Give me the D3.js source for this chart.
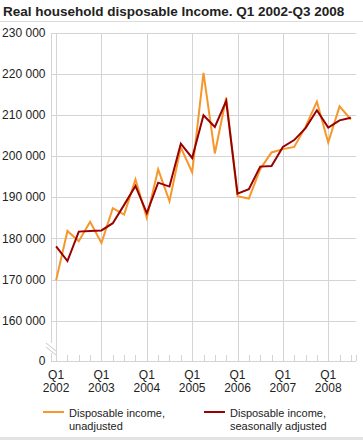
<!DOCTYPE html>
<html lang="en">
<head>
    <meta charset="UTF-8">
    <title>Real household disposable income</title>
    <script src="https://cdnjs.cloudflare.com/ajax/libs/d3/7.8.5/d3.min.js"></script>
    <style>
        body { margin: 0; background: #fff; }
        svg { display: block; font-family: "Liberation Sans", Arial, sans-serif; }
        svg .grid { stroke: #d4d4d4; stroke-width: 1; shape-rendering: crispEdges; }
        svg .tick-label { font-size: 12px; fill: #222; }
        svg .legend-label { font-size: 11px; fill: #222; }
        svg .series { fill: none; stroke-width: 2; stroke-linejoin: miter; }
    </style>
</head>
<body>
<svg width="363" height="440"></svg>
<script>
    var title = 'Real household disposable Income. Q1 2002-Q3 2008',
        years = ['2002', '2003', '2004', '2005', '2006', '2007', '2008'],
        yTicks = [0, 160000, 170000, 180000, 190000, 200000, 210000, 220000, 230000],
        // Q1 2002 .. Q3 2008
        unadjusted = [169800, 181800, 179300, 184050, 178900, 187350, 185800, 194350,
                      185000, 196800, 189050, 202100, 196050, 220250, 200650, 214200,
                      190250, 189700, 196850, 200900, 201700, 202250, 207100, 213250,
                      203300, 212100, 208900],
        adjusted = [178050, 174500, 181650, 181800, 181950, 183700, 188150, 192750,
                    186150, 193550, 192600, 203050, 199550, 209950, 207100, 213400,
                    190900, 191950, 197450, 197600, 202250, 203900, 206800, 211150,
                    206950, 208700, 209350],
        seriesNames = [['Disposable income,', 'unadjusted'], ['Disposable income,', 'seasonally adjusted']],
        colors = ['#f7962a', '#990000'];

    var svg = d3.select('svg'),
        pLeft = 51, pRight = 356, pTop = 32.7, pBottom = 361;

    var x = d3.scaleLinear().domain([-0.45, 26.45]).range([pLeft, pRight]),
        y = d3.scaleLinear().domain([0, 160000, 230000]).range([pBottom, 320.7, pTop]),
        fmt = d3.formatLocale({decimal: ',', thousands: ' ', grouping: [3], currency: ['', '']}).format(',d');

    // title
    svg.append('text')
        .attr('x', 3).attr('y', 16)
        .style('font-size', '13.5px').style('font-weight', 'bold').style('fill', '#222')
        .text(title);
    svg.append('line').attr('class', 'grid')
        .attr('x1', 0).attr('x2', 363).attr('y1', 21.5).attr('y2', 21.5)
        .style('stroke', '#dcdcdc');

    // horizontal grid
    svg.selectAll('.hgrid').data(yTicks.filter(function(d) { return d > 0; }))
        .enter().append('line')
        .attr('class', 'grid')
        .attr('x1', pLeft).attr('x2', pRight)
        .attr('y1', function(d) { return Math.round(y(d)) + 0.5; })
        .attr('y2', function(d) { return Math.round(y(d)) + 0.5; });

    svg.append('line').attr('class', 'grid')
        .attr('x1', pLeft).attr('x2', pRight)
        .attr('y1', Math.round(pBottom) + 0.5).attr('y2', Math.round(pBottom) + 0.5);

    // vertical grid at Q1 of each year, small ticks for the other quarters
    var quarters = d3.range(27);
    svg.selectAll('.vgrid').data(quarters)
        .enter().append('line')
        .attr('class', 'grid')
        .attr('x1', function(d) { return Math.round(x(d)) + 0.5; })
        .attr('x2', function(d) { return Math.round(x(d)) + 0.5; })
        .attr('y1', function(d) { return d % 4 === 0 ? pTop : pBottom - 6; })
        .attr('y2', pBottom);

    svg.append('line').attr('class', 'grid')
        .attr('x1', pRight + 0.5).attr('x2', pRight + 0.5)
        .attr('y1', pBottom - 6).attr('y2', pBottom);

    // y axis with break
    svg.append('line').attr('class', 'grid')
        .attr('x1', pLeft + 0.5).attr('x2', pLeft + 0.5)
        .attr('y1', pTop).attr('y2', 343);
    svg.append('line').attr('class', 'grid')
        .attr('x1', pLeft + 0.5).attr('x2', pLeft + 0.5)
        .attr('y1', 353).attr('y2', pBottom);
    [0, 4].forEach(function(o) {
        svg.append('line')
            .attr('x1', 46).attr('y1', 343 + o)
            .attr('x2', 56).attr('y2', 351 + o)
            .style('stroke', '#c8c8c8').style('stroke-width', 1);
    });

    // y labels
    svg.selectAll('.ylab').data(yTicks)
        .enter().append('text')
        .attr('class', 'tick-label')
        .attr('x', 45.5)
        .attr('y', function(d) { return y(d); })
        .attr('dy', '0.35em')
        .attr('text-anchor', 'end')
        .text(function(d) { return fmt(d); });

    // x labels
    var xl = svg.selectAll('.xlab').data(years)
        .enter().append('text')
        .attr('class', 'tick-label')
        .attr('text-anchor', 'middle');
    xl.append('tspan')
        .attr('x', function(d, i) { return x(i * 4); })
        .attr('y', 379)
        .text('Q1');
    xl.append('tspan')
        .attr('x', function(d, i) { return x(i * 4); })
        .attr('y', 392)
        .text(function(d) { return d; });

    // lines
    var line = d3.line()
        .x(function(d, i) { return x(i); })
        .y(function(d) { return y(d); });

    [unadjusted, adjusted].forEach(function(s, k) {
        svg.append('path')
            .attr('class', 'series')
            .attr('d', line(s))
            .style('stroke', colors[k]);
    });

    // legend
    var legendX = [43, 204];
    seriesNames.forEach(function(n, k) {
        svg.append('line')
            .attr('x1', legendX[k]).attr('x2', legendX[k] + 21)
            .attr('y1', 412).attr('y2', 412)
            .style('stroke', colors[k]).style('stroke-width', 2);
        var t = svg.append('text').attr('class', 'legend-label');
        n.forEach(function(s, j) {
            t.append('tspan')
                .attr('x', legendX[k] + 26)
                .attr('y', 417 + j * 13)
                .text(s);
        });
    });

    svg.append('rect')
        .attr('x', 0).attr('y', 437).attr('width', 363).attr('height', 3)
        .style('fill', '#e3e3e3');
</script>
</body>
</html>
